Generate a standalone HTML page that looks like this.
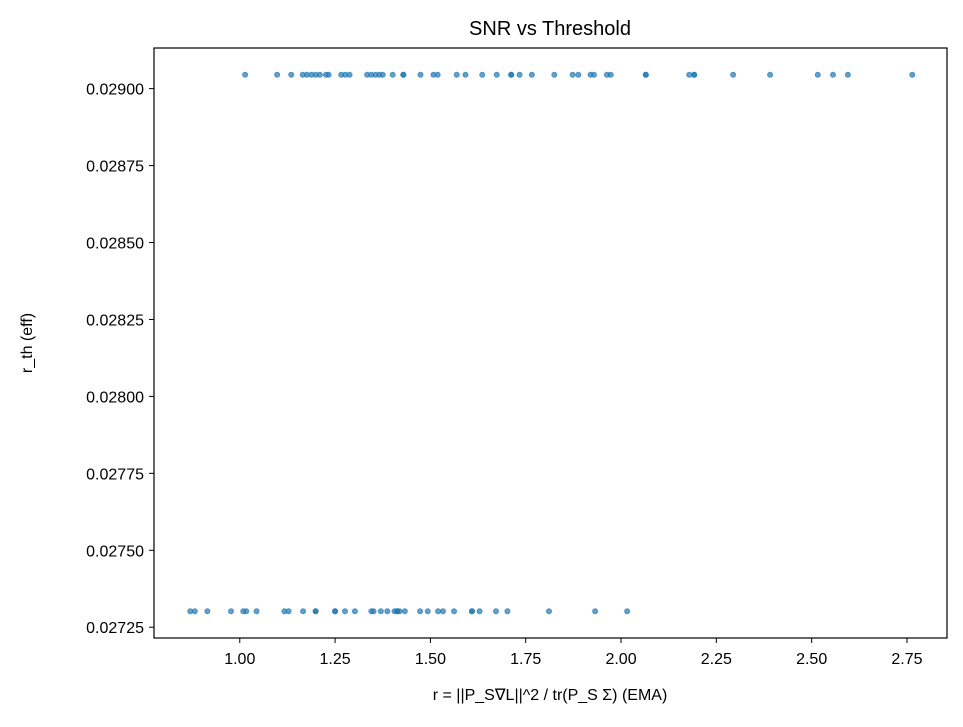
<!DOCTYPE html>
<html><head><meta charset="utf-8"><style>
body{margin:0;background:#fff;font-family:"Liberation Sans","DejaVu Sans",sans-serif}
</style></head><body>
<svg id="chart" width="963" height="722" xmlns="http://www.w3.org/2000/svg">
<rect width="963" height="722" fill="#fff"/>
<text x="550" y="35" font-size="20" text-anchor="middle">SNR vs Threshold</text>
<g id="marks"></g>
<g id="axes"></g>
<rect x="154" y="48" width="793" height="590" fill="none" stroke="#000" stroke-width="1.2"/>
<text x="550" y="700" font-size="16" text-anchor="middle">r = ||P_S∇L||^2 / tr(P_S Σ) (EMA)</text>
<text x="0" y="0" font-size="16" text-anchor="middle" transform="translate(32,343) rotate(-90)">r_th (eff)</text>
</svg>
<script>
const highX=[1.014,1.098,1.135,1.165,1.176,1.188,1.199,1.210,1.226,1.233,1.266,1.277,1.288,1.334,1.345,1.356,1.366,1.375,1.401,1.429,1.429,1.474,1.508,1.519,1.569,1.592,1.636,1.674,1.712,1.712,1.734,1.766,1.825,1.873,1.888,1.920,1.929,1.963,1.973,2.065,2.065,2.179,2.192,2.192,2.294,2.391,2.516,2.556,2.595,2.764];
const highY=0.029045;
const lowX=[0.870,0.882,0.915,0.977,1.009,1.017,1.044,1.117,1.128,1.166,1.199,1.199,1.250,1.250,1.276,1.302,1.345,1.351,1.370,1.387,1.406,1.413,1.413,1.419,1.433,1.473,1.493,1.520,1.533,1.562,1.609,1.609,1.629,1.672,1.702,1.811,1.932,2.016];
const lowY=0.027302;
const xTicks=[1.00,1.25,1.50,1.75,2.00,2.25,2.50,2.75];
const yTicks=[0.02725,0.02750,0.02775,0.02800,0.02825,0.02850,0.02875,0.02900];
const NS="http://www.w3.org/2000/svg";
const X0=0.775,X1=2.855,Y0=0.027215,Y1=0.029132;
function sx(v){return 154+793*(v-X0)/(X1-X0);}
function sy(v){return 638-590*(v-Y0)/(Y1-Y0);}
const marks=document.getElementById('marks'),axes=document.getElementById('axes');
function pt(x,y){const c=document.createElementNS(NS,'circle');
c.setAttribute('cx',sx(x));c.setAttribute('cy',sy(y));c.setAttribute('r',2.6);
c.setAttribute('fill','#1f77b4');c.setAttribute('fill-opacity','0.7');
c.setAttribute('stroke','#1f77b4');c.setAttribute('stroke-opacity','0.7');c.setAttribute('stroke-width','0.8');


marks.appendChild(c);}
highX.forEach(x=>pt(x,highY));
lowX.forEach(x=>pt(x,lowY));
xTicks.forEach(t=>{const x=sx(t);
const l=document.createElementNS(NS,'line');l.setAttribute('x1',x);l.setAttribute('x2',x);l.setAttribute('y1',638);l.setAttribute('y2',643);l.setAttribute('stroke','#000');


axes.appendChild(l);
const tx=document.createElementNS(NS,'text');tx.setAttribute('x',x);tx.setAttribute('y',664);tx.setAttribute('font-size','16');tx.setAttribute('text-anchor','middle');tx.textContent=t.toFixed(2);


axes.appendChild(tx);});
yTicks.forEach(t=>{const y=sy(t);
const l=document.createElementNS(NS,'line');l.setAttribute('x1',149);l.setAttribute('x2',154);l.setAttribute('y1',y);l.setAttribute('y2',y);l.setAttribute('stroke','#000');


axes.appendChild(l);
const tx=document.createElementNS(NS,'text');tx.setAttribute('x',144);tx.setAttribute('y',y+6);tx.setAttribute('font-size','16');tx.setAttribute('text-anchor','end');tx.textContent=t.toFixed(5);


axes.appendChild(tx);});
</script>
</body></html>
